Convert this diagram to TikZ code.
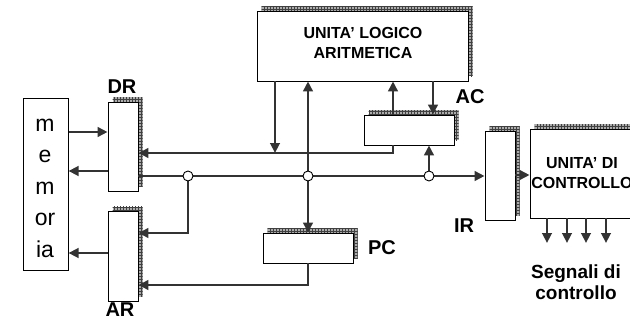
\documentclass[tikz,border=0pt]{standalone}
\usepackage{fontspec}
\setmainfont{Liberation Sans}
\usetikzlibrary{arrows.meta,shadows,patterns}
\begin{document}
\begin{tikzpicture}[x=1pt,y=-1pt,
  shad/.style={general shadow={shadow xshift=4.5pt,shadow yshift=4.5pt,fill=gray!65},
               general shadow={shadow xshift=4.5pt,shadow yshift=4.5pt,pattern=grid,pattern color=black!75}},
  regbox/.style={draw=black,line width=0.8pt,fill=white,inner sep=0pt,shad},
  membox/.style={draw=black,line width=1pt,fill=white,inner sep=0pt},
  wire/.style={line width=2.8pt,draw=black!80},
  arr/.style={wire,-{Triangle[length=10pt,width=9.5pt]}},
  junc/.style={circle,draw=black,line width=0.9pt,fill=white,minimum size=10pt,inner sep=0pt},
  lbl/.style={font=\fontsize{20}{22}\selectfont\bfseries},
  boxtxt/.style={font=\fontsize{16}{20}\selectfont\bfseries,align=center}
]
\useasboundingbox (0,0) rectangle (630,321);
% boxes
\node[membox,minimum width=45,minimum height=171] (mem) at (45.5,184.5) {};
\node[font=\fontsize{23}{31.5}\selectfont,align=center] (memtxt) at (45,188) {m\\e\\m\\or\\ia};
\node[regbox,minimum width=30,minimum height=89] (dr) at (123,146.5) {};
\node[regbox,minimum width=30,minimum height=90] (ar) at (123,256) {};
\node[regbox,minimum width=211,minimum height=70] (alu) at (362.5,46) {};
\node[boxtxt] (alutxt) at (363,43) {UNITA’ LOGICO\\ARITMETICA};
\node[regbox,minimum width=90,minimum height=30] (ac) at (409,130) {};
\node[regbox,minimum width=90,minimum height=30] (pc) at (308,248) {};
\node[regbox,minimum width=30,minimum height=89] (ir) at (500,175.5) {};
\node[regbox,minimum width=112,minimum height=89] (cu) at (586,173.5) {};
\node[boxtxt] (cutxt) at (582,173) {UNITA’ DI\\CONTROLLO};
% labels
\node[lbl] (drl) at (122,87) {DR};
\node[lbl] (arl) at (120,310) {AR};
\node[lbl] (acl) at (470,97) {AC};
\node[lbl] (pcl) at (382,248) {PC};
\node[lbl] (irl) at (464,226) {IR};
\node[font=\fontsize{19}{21}\selectfont\bfseries,align=center] (sig) at (576,282) {Segnali di\\controllo};
% coordinates
\coordinate (j1) at (188,176);
\coordinate (j2) at (308,176);
\coordinate (j3) at (429,176);
\coordinate (t1) at (275,153);
% memory links
\draw[arr] (mem.east |- 0,132) -- (dr.west |- 0,132);
\draw[arr] (dr.west |- 0,171) -- (mem.east |- 0,171);
\draw[arr] (ar.west |- 0,253) -- (mem.east |- 0,253);
% AC output to DR
\draw[arr] (ac.south -| 393,0) |- (dr.east |- 0,153);
\draw[arr] (alu.south -| 275,0) -- (t1);
% main bus
\draw[arr] (dr.east |- 0,176) -- (ir.west |- 0,176);
\draw[arr] (j1) |- (ar.east |- 0,233);
\draw[arr] (j2) -- (alu.south -| j2);
\draw[arr] (j2) -- (pc.north -| j2);
\draw[arr] (j3) -- (ac.south -| j3);
\draw[arr] (ac.north -| 393,0) -- (alu.south -| 393,0);
\draw[arr] (alu.south -| 433,0) -- (ac.north -| 433,0);
\draw[arr] (pc.south -| 308,0) |- (ar.east |- 0,285);
\draw[arr] (ir.east |- 0,175) -- (cu.west |- 0,175);
\foreach \x/\n in {547/a,567/b,586/c,606/d}{
  \coordinate (s\n) at (\x,243);
  \draw[arr] (cu.south -| \x,0) -- (s\n);
}
\node[junc] at (j1) {};
\node[junc] at (j2) {};
\node[junc] at (j3) {};
\end{tikzpicture}
\end{document}
